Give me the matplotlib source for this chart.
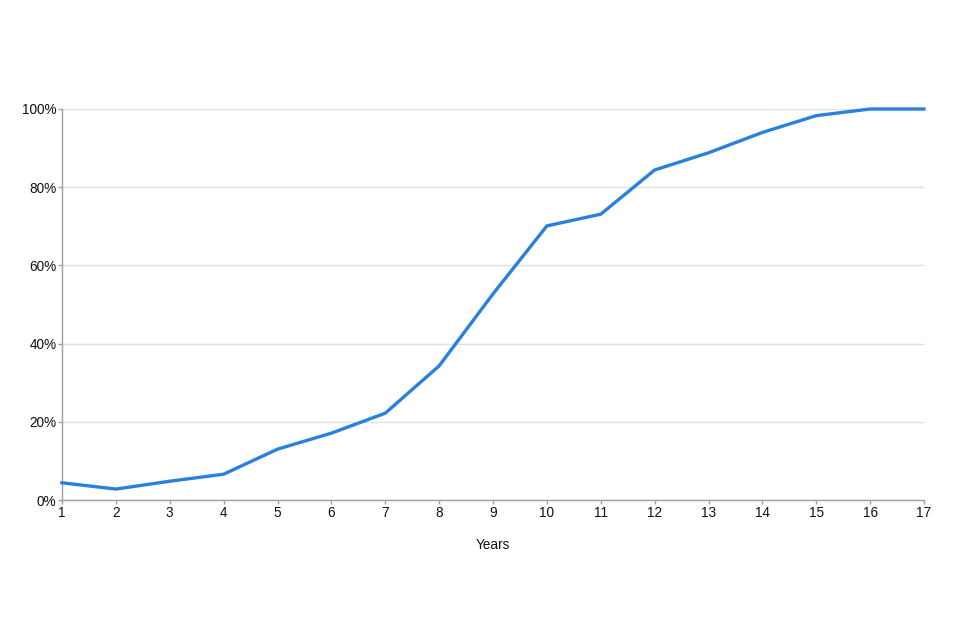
import matplotlib
matplotlib.use("Agg")
import matplotlib.pyplot as plt
from matplotlib.ticker import FuncFormatter

years = list(range(1, 18))
share = [4.4, 2.8, 4.8, 6.6, 13.0, 17.1, 22.2, 34.3, 52.7, 70.1, 73.1, 84.4, 88.8, 94.0, 98.3, 100.0, 100.0]
y_ticks = [0, 20, 40, 60, 80, 100]
x_label = "Years"

plt.rcParams['font.family'] = ['Liberation Sans', 'DejaVu Sans']

fig = plt.figure(figsize=(9.6, 6.4), dpi=100)
ax = fig.add_axes([62/960, 140/640, 862/960, 391/640])

ax.plot(years, share, color='#2a80dd', linewidth=2.4, clip_on=False, zorder=3,
        solid_joinstyle='miter')

ax.set_xlim(1, 17)
ax.set_ylim(0, 100)
ax.set_xticks(years)
ax.set_yticks(y_ticks)
ax.yaxis.set_major_formatter(FuncFormatter(lambda v, p: f"{int(v)}%"))
ax.grid(axis='y', color='#e0e0e0', linewidth=1)
ax.set_axisbelow(True)

for s in ['top', 'right']:
    ax.spines[s].set_visible(False)
for s in ['left', 'bottom']:
    ax.spines[s].set_color('#a0a0a0')
    ax.spines[s].set_linewidth(1)

ax.tick_params(axis='both', colors='#a0a0a0', labelcolor='#111111', labelsize=9.8,
               length=3, width=1)
ax.tick_params(axis='x', pad=1)
ax.tick_params(axis='y', pad=1)
ax.set_xlabel(x_label, fontsize=9.8, color='#111111', labelpad=13)

fig.savefig("out.png", dpi=100, facecolor='white')
